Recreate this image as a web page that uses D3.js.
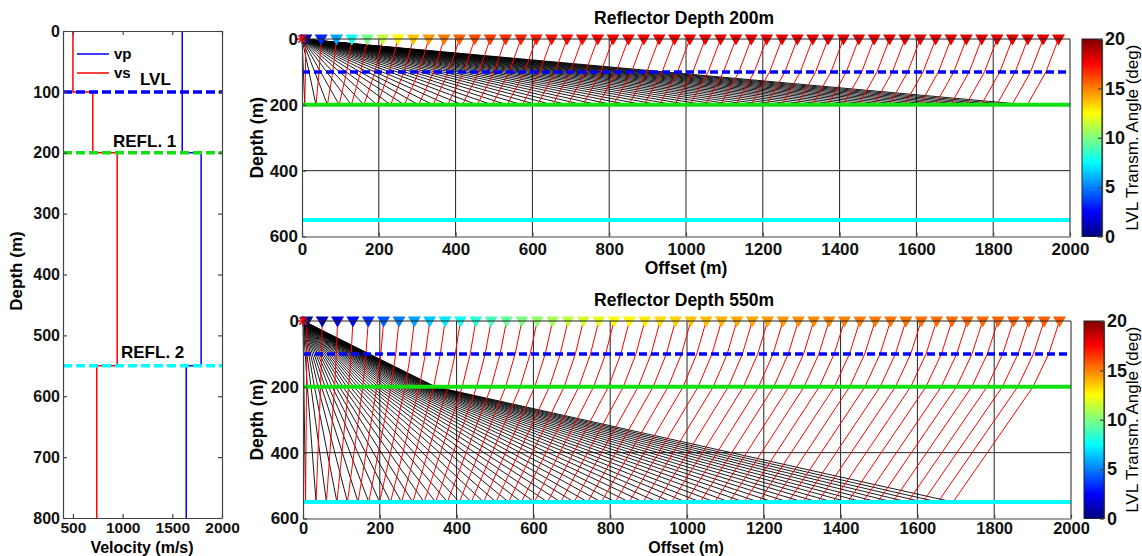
<!DOCTYPE html>
<html>
<head>
<meta charset="utf-8">
<script src="https://cdn.jsdelivr.net/npm/d3@7"></script>
<style>
  body { margin: 0; background: #fff; }
  svg { font-family: "Liberation Sans", Arial, sans-serif; }
  .ax path, .ax line { stroke: #444; stroke-width: 1.2; }
  .ax text { font-weight: bold; fill: #111; }
</style>
</head>
<body>
<svg id="chart" width="1142" height="556"></svg>
<script>
// velocity model
const layerTop = [0, 100, 200, 550];
const layerBottom = [100, 200, 550, 800];
const vp = [1600, 1600, 1790, 1640];
const vs = [500, 700, 945, 740];

// interfaces
const ifDepth = [100, 200, 550];
const ifLabel = ["LVL", "REFL. 1", "REFL. 2"];
const ifColor = ["#0000ff", "#11e011", "#00ffff"];

// receiver offsets (m)
const receivers = [10, 50, 90, 130, 170, 210, 250, 290, 330, 370,
  410, 450, 490, 530, 570, 610, 650, 690, 730, 770,
  810, 850, 890, 930, 970, 1010, 1050, 1090, 1130, 1170,
  1210, 1250, 1290, 1330, 1370, 1410, 1450, 1490, 1530, 1570,
  1610, 1650, 1690, 1730, 1770, 1810, 1850, 1890, 1930, 1970];

// LVL transmission angle (deg) at each receiver, reflector at 200 m
const angles200 = [0.65, 3.22, 5.64, 7.83, 9.73, 11.32, 12.62, 13.66, 14.48, 15.13,
  15.64, 16.05, 16.37, 16.63, 16.84, 17.02, 17.16, 17.28, 17.38, 17.47,
  17.54, 17.61, 17.66, 17.71, 17.75, 17.79, 17.82, 17.85, 17.88, 17.90,
  17.92, 17.94, 17.96, 17.97, 17.99, 18.00, 18.01, 18.02, 18.03, 18.04,
  18.05, 18.06, 18.07, 18.07, 18.08, 18.09, 18.09, 18.10, 18.10, 18.11];

// LVL transmission angle (deg) at each receiver, reflector at 550 m
const angles550 = [0.21, 1.02, 1.84, 2.64, 3.43, 4.20, 4.95, 5.68, 6.38, 7.05,
  7.69, 8.30, 8.88, 9.42, 9.93, 10.41, 10.85, 11.26, 11.65, 12.00,
  12.33, 12.63, 12.91, 13.17, 13.40, 13.62, 13.81, 13.99, 14.16, 14.31,
  14.45, 14.57, 14.69, 14.79, 14.89, 14.98, 15.06, 15.14, 15.20, 15.27,
  15.33, 15.38, 15.43, 15.47, 15.52, 15.56, 15.59, 15.63, 15.66, 15.69];

const reflectorDepth = [200, 550];
const lvlAngles = [angles200, angles550];
const titles = ["Reflector Depth 200m", "Reflector Depth 550m"];

// tick labels
const velTicks = [500, 1000, 1500, 2000];
const depthTicks = [0, 100, 200, 300, 400, 500, 600, 700, 800];
const offsetTicks = [0, 200, 400, 600, 800, 1000, 1200, 1400, 1600, 1800, 2000];
const panelDepthTicks = [0, 200, 400, 600];
const angleTicks = [0, 5, 10, 15, 20];

const svg = d3.select("#chart");
const fmt = d3.format("d");

function jet(t) {
  const c = v => Math.round(255 * Math.max(0, Math.min(1, v)));
  return `rgb(${c(1.5 - Math.abs(4 * t - 3))},${c(1.5 - Math.abs(4 * t - 2))},${c(1.5 - Math.abs(4 * t - 1))})`;
}

// ---------- left panel: velocity vs depth ----------
const xV = d3.scaleLinear().domain([400, 2000]).range([63, 222]);
const yV = d3.scaleLinear().domain([0, 800]).range([31, 518]);
const left = svg.append("g");

function steps(v) {
  const pts = [];
  v.forEach((val, i) => { pts.push([val, layerTop[i]]); pts.push([val, layerBottom[i]]); });
  return pts;
}
const vline = d3.line().x(d => xV(d[0])).y(d => yV(d[1]));

left.append("path").attr("d", vline(steps(vp))).attr("fill", "none")
  .attr("stroke", "#0000ff").attr("stroke-width", 1.5);
left.append("path").attr("d", vline(steps(vs))).attr("fill", "none")
  .attr("stroke", "#ff0000").attr("stroke-width", 1.5);

ifDepth.forEach((d, i) => {
  left.append("line").attr("x1", xV(400)).attr("x2", xV(2000))
    .attr("y1", yV(d)).attr("y2", yV(d))
    .attr("stroke", ifColor[i]).attr("stroke-width", 3.5).attr("stroke-dasharray", "9,4");
});

// labels of interfaces
const labelPos = [[140, 85], [113, 147], [121, 358]];
ifLabel.forEach((t, i) => {
  left.append("text").attr("x", labelPos[i][0]).attr("y", labelPos[i][1])
    .attr("font-size", 17).attr("font-weight", "bold").text(t);
});

// legend
[["vp", "#0000ff", 54], ["vs", "#ff0000", 73]].forEach(l => {
  left.append("line").attr("x1", 77).attr("x2", 109).attr("y1", l[2]).attr("y2", l[2])
    .attr("stroke", l[1]).attr("stroke-width", 1.5);
  left.append("text").attr("x", 114).attr("y", l[2] + 5).attr("font-size", 15)
    .attr("font-weight", "bold").text(l[0]);
});

left.append("g").attr("class", "ax").attr("transform", `translate(0,${yV(800)})`)
  .call(d3.axisBottom(xV).tickValues(velTicks).tickFormat(fmt).tickSizeInner(-4).tickSizeOuter(0).tickPadding(4))
  .selectAll("text").attr("font-size", 15.5);
left.append("g").attr("class", "ax").attr("transform", `translate(0,${yV(0)})`)
  .call(d3.axisTop(xV).tickValues(velTicks).tickSizeInner(-4).tickSizeOuter(0).tickFormat(""));
left.append("g").attr("class", "ax").attr("transform", `translate(${xV(400)},0)`)
  .call(d3.axisLeft(yV).tickValues(depthTicks).tickFormat(fmt).tickSizeInner(-4).tickSizeOuter(0).tickPadding(3))
  .selectAll("text").attr("font-size", 16);
left.append("g").attr("class", "ax").attr("transform", `translate(${xV(2000)},0)`)
  .call(d3.axisRight(yV).tickValues(depthTicks).tickSizeInner(-4).tickSizeOuter(0).tickFormat(""));

left.append("text").attr("transform", "translate(22,271) rotate(-90)").attr("text-anchor", "middle")
  .attr("font-size", 17).attr("font-weight", "bold").text("Depth (m)");
left.append("text").attr("x", 142).attr("y", 552.5).attr("text-anchor", "middle")
  .attr("font-size", 16).attr("font-weight", "bold").text("Velocity (m/s)");

// ---------- ray panels ----------
const panelBox = [
  { x0: 302, x1: 1070, y0: 39, y1: 236.5, cb: [1082, 1102], xl: 274, tf: 17, tp: 6, lf: 17.5 },
  { x0: 303, x1: 1071, y0: 321, y1: 518.5, cb: [1084, 1104], xl: 552.5, tf: 16.5, tp: 4, lf: 16 }
];

const defs = svg.append("defs");
const grad = defs.append("linearGradient").attr("id", "jet")
  .attr("x1", 0).attr("y1", 1).attr("x2", 0).attr("y2", 0);
d3.range(0, 65).forEach(k => {
  grad.append("stop").attr("offset", k / 64).attr("stop-color", jet(k / 64));
});

// converted-wave ray: P down from source, S up to receiver (Snell through layers)
function rayPaths(D, ang, r) {
  const u = Math.sin(ang * Math.PI / 180) / vs[0];
  const sPts = [[r, 0]];
  let x = r;
  for (let i = 0; i < layerTop.length && layerTop[i] < D; i++) {
    const bot = Math.min(layerBottom[i], D);
    const s = u * vs[i];
    x -= (bot - layerTop[i]) * s / Math.sqrt(1 - s * s);
    sPts.push([x, bot]);
  }
  const pPts = [[0, 0]];
  let xp = 0;
  for (let i = 0; i < layerTop.length && layerBottom[i] < D; i++) {
    const a = u * vp[i];
    xp += (layerBottom[i] - layerTop[i]) * a / Math.sqrt(1 - a * a);
    if (vp[i + 1] !== vp[i]) pPts.push([xp, layerBottom[i]]);
  }
  pPts.push([x, D]);
  return { p: pPts, s: sPts };
}

panelBox.forEach((b, k) => {
  const D = reflectorDepth[k];
  const x = d3.scaleLinear().domain([0, 2000]).range([b.x0, b.x1]);
  const y = d3.scaleLinear().domain([0, 600]).range([b.y0, b.y1]);
  const g = svg.append("g");
  const line = d3.line().x(d => x(d[0])).y(d => y(d[1]));

  // grid
  g.append("g").selectAll("line").data(offsetTicks.slice(1, -1)).join("line")
    .attr("x1", d => x(d)).attr("x2", d => x(d)).attr("y1", y(0)).attr("y2", y(600))
    .attr("stroke", "#222").attr("stroke-width", 1);
  g.append("g").selectAll("line").data(panelDepthTicks.slice(1, -1)).join("line")
    .attr("x1", x(0)).attr("x2", x(2000)).attr("y1", d => y(d)).attr("y2", d => y(d))
    .attr("stroke", "#222").attr("stroke-width", 1);

  const rays = receivers.map((r, i) => rayPaths(D, lvlAngles[k][i], r));
  g.append("g").selectAll("path").data(rays).join("path")
    .attr("d", d => line(d.p)).attr("fill", "none").attr("stroke", "#000").attr("stroke-width", 0.9);
  g.append("g").selectAll("path").data(rays).join("path")
    .attr("d", d => line(d.s)).attr("fill", "none").attr("stroke", "#ff0000").attr("stroke-width", 1);

  ifDepth.forEach((d, i) => {
    const l = g.append("line").attr("x1", x(0)).attr("x2", x(2000))
      .attr("y1", y(d)).attr("y2", y(d)).attr("stroke", ifColor[i]);
    if (i === 0) l.attr("stroke-width", 3.5).attr("stroke-dasharray", "8,4");
    else l.attr("stroke-width", 4);
  });

  // receivers
  g.append("g").selectAll("path").data(receivers).join("path")
    .attr("transform", d => `translate(${x(d)},${y(0)})`)
    .attr("d", "M-6.5,-4.5L6.5,-4.5L0,6.5Z")
    .attr("fill", (d, i) => jet(lvlAngles[k][i] / 20));

  // source
  const a = 3.6;
  g.append("path").attr("transform", `translate(${x(0)},${y(0)})`)
    .attr("d", `M-5,0L5,0M0,-5L0,5M${-a},${-a}L${a},${a}M${-a},${a}L${a},${-a}`)
    .attr("stroke", "#ff0000").attr("stroke-width", 1.5);

  // axes
  g.append("g").attr("class", "ax").attr("transform", `translate(0,${y(600)})`)
    .call(d3.axisBottom(x).tickValues(offsetTicks).tickFormat(fmt).tickSizeInner(-4).tickSizeOuter(0).tickPadding(b.tp))
    .selectAll("text").attr("font-size", b.tf);
  g.append("g").attr("class", "ax").attr("transform", `translate(${x(0)},0)`)
    .call(d3.axisLeft(y).tickValues(panelDepthTicks).tickFormat(fmt).tickSizeInner(-4).tickSizeOuter(0).tickPadding(4))
    .selectAll("text").attr("font-size", 17);
  g.append("line").attr("x1", x(0)).attr("x2", x(2000)).attr("y1", y(0)).attr("y2", y(0))
    .attr("stroke", "#222").attr("stroke-width", 1);
  g.append("line").attr("x1", x(2000)).attr("x2", x(2000)).attr("y1", y(0)).attr("y2", y(600))
    .attr("stroke", "#444").attr("stroke-width", 1.2);

  g.append("text").attr("x", 684).attr("y", b.y0 - 15).attr("text-anchor", "middle")
    .attr("font-size", 17.5).attr("font-weight", "bold").text(titles[k]);
  g.append("text").attr("x", 686).attr("y", b.xl).attr("text-anchor", "middle")
    .attr("font-size", b.lf).attr("font-weight", "bold").text("Offset (m)");
  g.append("text").attr("transform", `translate(263,${(b.y0 + b.y1) / 2}) rotate(-90)`)
    .attr("text-anchor", "middle").attr("font-size", 17.5).attr("font-weight", "bold").text("Depth (m)");

  // colorbar
  const yc = d3.scaleLinear().domain([0, 20]).range([b.y1, b.y0]);
  g.append("rect").attr("x", b.cb[0]).attr("y", b.y0).attr("width", b.cb[1] - b.cb[0])
    .attr("height", b.y1 - b.y0).attr("fill", "url(#jet)").attr("stroke", "#222").attr("stroke-width", 1);
  const cax = g.append("g").attr("class", "ax").attr("transform", `translate(${b.cb[1]},0)`)
    .call(d3.axisRight(yc).tickValues(angleTicks).tickSizeInner(-4).tickSizeOuter(0).tickPadding(3));
  cax.selectAll("text").attr("font-size", 18).attr("font-weight", "normal");
  cax.select(".domain").attr("stroke", "none");
  g.append("text").attr("transform", `translate(1138,${(b.y0 + b.y1) / 2}) rotate(-90)`)
    .attr("text-anchor", "middle").attr("font-size", 17).text("LVL Transm. Angle (deg)");
});
</script>
</body>
</html>
